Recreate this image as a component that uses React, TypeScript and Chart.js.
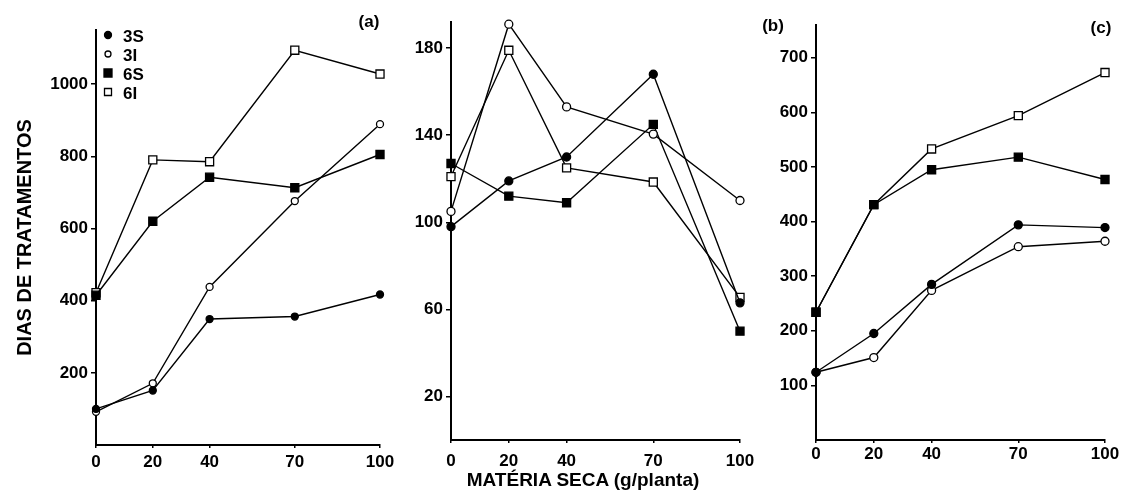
import React, { useEffect, useRef } from 'react';
import { Chart, registerables } from 'chart.js';

Chart.register(...registerables);

const FONT = "'Liberation Sans', Arial, Helvetica, sans-serif";

// ---- data ----
const xValues = [0, 20, 40, 70, 100];
const xTickValues = [0, 20, 40, 70, 100];
const seriesLabels = ['3S', '3I', '6S', '6I'];

// panel (a)
const a3S = [100, 151, 349, 356, 417];
const a3I = [92, 171, 438, 676, 889];
const a6S = [415, 620, 742, 713, 805];
const a6I = [422, 790, 785, 1094, 1028];
const aYTicks = [200, 400, 600, 800, 1000];

// panel (b)
const b3S = [98, 119, 130, 168, 63];
const b3I = [105, 191, 153, 140.5, 110];
const b6S = [127, 112, 109, 145, 50];
const b6I = [121, 179, 125, 118.5, 65.5];
const bYTicks = [20, 60, 100, 140, 180];

// panel (c)
const c3S = [124, 195, 285, 394, 389];
const c3I = [124, 151, 274, 354, 364];
const c6S = [234, 431, 495, 518, 477];
const c6I = [234, 431, 533, 594, 673];
const cYTicks = [100, 200, 300, 400, 500, 600, 700];

const seriesStyles = [
  { shape: 'circle', filled: true },
  { shape: 'circle', filled: false },
  { shape: 'rect', filled: true },
  { shape: 'rect', filled: false },
];

type Spec = {
  left: number;
  width: number;
  axisWidth: number;
  padTop: number;
  padRight: number;
  bottom: number;
  yMax: number;
  yTicks: number[];
  series: number[][];
  xPad: number;
  circleR: number;
  legend: boolean;
  yTitle: boolean;
};

const H = 499;

const panels: Spec[] = [
  { left: 0, width: 410, axisWidth: 96, padTop: 30, padRight: 30, bottom: 445, yMax: 1150, yTicks: aYTicks, series: [a3S, a3I, a6S, a6I], xPad: 4, circleR: 3.5, legend: true, yTitle: true },
  { left: 392, width: 375, axisWidth: 59, padTop: 22, padRight: 27, bottom: 440, yMax: 192, yTicks: bYTicks, series: [b3S, b3I, b6S, b6I], xPad: 8, circleR: 4, legend: false, yTitle: false },
  { left: 750, width: 385, axisWidth: 66, padTop: 25, padRight: 30, bottom: 440, yMax: 760, yTicks: cYTicks, series: [c3S, c3I, c6S, c6I], xPad: 1, circleR: 4, legend: false, yTitle: false },
];

const insideLegend = {
  id: 'insideLegend',
  afterDraw(chart: any) {
    const ctx = chart.ctx as CanvasRenderingContext2D;
    const { left, top } = chart.chartArea;
    ctx.save();
    ctx.font = `bold 17px ${FONT}`;
    ctx.textBaseline = 'middle';
    ctx.textAlign = 'left';
    ctx.lineWidth = 1.3;
    ctx.strokeStyle = '#000';
    seriesLabels.forEach((label, i) => {
      const st = seriesStyles[i];
      const mx = left + 12;
      const my = top + 5 + i * 19;
      ctx.beginPath();
      if (st.shape === 'circle') {
        ctx.arc(mx, my, st.filled ? 3.5 : 3, 0, Math.PI * 2);
      } else {
        const s = st.filled ? 4 : 3.5;
        ctx.rect(mx - s, my - s, 2 * s, 2 * s);
      }
      ctx.fillStyle = st.filled ? '#000' : '#fff';
      ctx.fill();
      ctx.stroke();
      ctx.fillStyle = '#000';
      ctx.fillText(label, mx + 15, my + 2);
    });
    ctx.restore();
  },
};

function buildConfig(spec: Spec): any {
  const tickFont = { family: FONT, size: 17, weight: 'bold' };
  const datasets = seriesLabels.map((label, i) => {
    const st = seriesStyles[i];
    return {
      label,
      data: xValues.map((x, j) => ({ x, y: spec.series[i][j] })),
      borderColor: '#000',
      borderWidth: 1.4,
      pointStyle: st.shape,
      pointRadius: st.shape === 'rect' ? 5.7 : spec.circleR,
      pointBackgroundColor: st.filled ? '#000' : '#fff',
      pointBorderColor: '#000',
      pointBorderWidth: 1.3,
      tension: 0,
      fill: false,
      clip: false,
    };
  });
  return {
    type: 'line',
    data: { datasets },
    plugins: spec.legend ? [insideLegend] : [],
    options: {
      animation: false,
      responsive: true,
      maintainAspectRatio: false,
      events: [],
      layout: { padding: { top: spec.padTop, right: spec.padRight, left: 0, bottom: 0 } },
      plugins: { legend: { display: false }, tooltip: { enabled: false } },
      scales: {
        x: {
          type: 'linear',
          min: 0,
          max: 100,
          afterBuildTicks: (s: any) => {
            s.ticks = xTickValues.map((v) => ({ value: v }));
          },
          afterFit: (s: any) => {
            s.height = H - spec.bottom;
            s.paddingLeft = 0;
            s.paddingRight = 0;
          },
          ticks: {
            color: '#000',
            font: tickFont,
            padding: spec.xPad,
            autoSkip: false,
            maxRotation: 0,
            callback: (v: any) => String(v),
          },
          grid: { display: true, drawOnChartArea: false, drawTicks: true, tickLength: 3, color: '#000', lineWidth: 1.5 },
          border: { display: true, color: '#000', width: 2 },
        },
        y: {
          type: 'linear',
          min: 0,
          max: spec.yMax,
          afterBuildTicks: (s: any) => {
            s.ticks = spec.yTicks.map((v) => ({ value: v }));
          },
          afterFit: (s: any) => {
            s.width = spec.axisWidth;
            s.paddingTop = 0;
            s.paddingBottom = 0;
          },
          ticks: {
            color: '#000',
            font: tickFont,
            padding: 3,
            autoSkip: false,
            callback: (v: any) => String(v),
          },
          grid: { display: true, drawOnChartArea: false, drawTicks: true, tickLength: 5, color: '#000', lineWidth: 1.5 },
          border: { display: true, color: '#000', width: 2 },
          title: spec.yTitle
            ? {
                display: true,
                text: 'DIAS DE TRATAMENTOS',
                color: '#000',
                font: { family: FONT, size: 20, weight: 'bold' },
                padding: { top: 13, bottom: 0 },
              }
            : { display: false },
        },
      },
    },
  };
}

function Panel({ spec }: { spec: Spec }) {
  const ref = useRef<HTMLCanvasElement>(null);
  useEffect(() => {
    const chart = new Chart(ref.current as HTMLCanvasElement, buildConfig(spec));
    return () => chart.destroy();
  }, [spec]);
  return (
    <div style={{ position: 'absolute', left: spec.left, top: 0, width: spec.width, height: H }}>
      <canvas ref={ref} style={{ display: 'block' }} />
    </div>
  );
}

const labelStyle = (x: number, y: number, size: number): React.CSSProperties => ({
  position: 'absolute',
  left: x,
  top: y,
  transform: 'translate(-50%, -50%)',
  fontFamily: FONT,
  fontWeight: 'bold',
  fontSize: size,
  lineHeight: 1,
  whiteSpace: 'nowrap',
  color: '#000',
});

export default function App() {
  return (
    <div style={{ position: 'absolute', left: 0, top: 0, width: 1135, height: H, background: '#fff', overflow: 'hidden' }}>
      {panels.map((p, i) => (
        <Panel key={i} spec={p} />
      ))}
      <div style={labelStyle(369, 21, 17)}>(a)</div>
      <div style={labelStyle(773, 25, 17)}>(b)</div>
      <div style={labelStyle(1101, 27, 17)}>(c)</div>
      <div style={labelStyle(583, 479, 19)}>MATÉRIA SECA (g/planta)</div>
    </div>
  );
}
